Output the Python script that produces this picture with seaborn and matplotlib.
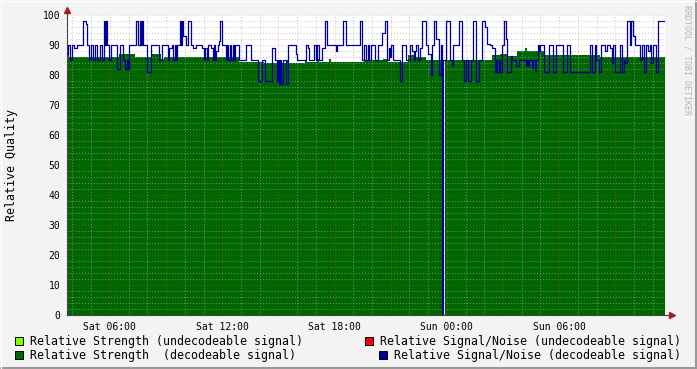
import numpy as np
import pandas as pd
import matplotlib
matplotlib.use("Agg")
import matplotlib.pyplot as plt
import seaborn as sns
from matplotlib.ticker import MultipleLocator, FuncFormatter
from matplotlib.patches import Rectangle
from matplotlib.lines import Line2D

# ---------------- data (RRD samples, one step = 192 s, first sample Sat 03:42) -------------
START_HOUR = 3 + 42.4 / 60
STEP_HOURS = 192 / 3600
N_SAMPLES = 599

# Relative Strength (decodeable) - step changes: sample index -> value
strength_idx = [0, 2, 52, 68, 85, 94, 97, 172, 197, 220, 222, 238, 240, 250, 252, 262, 264,
                297, 317, 322, 342, 349, 360, 377, 379, 426, 434, 442, 451, 459, 461, 478, 534]
strength_val = [87, 86, 87, 86, 87, 85.5, 86, 84.5, 84, 85, 84, 85, 84.5, 85.5, 84.5, 85.5, 84.5,
                85, 85.5, 84.5, 86.7, 86, 85, 0, 85, 86.7, 87, 86.5, 88, 89, 88, 86.8, 86]

# Relative Signal/Noise (decodeable) - step changes: sample index -> value
snr_idx = [0, 1, 3, 5, 7, 10, 16, 19, 20, 22, 24, 26, 28, 30, 33, 35, 37, 38, 39, 40,
           42, 44, 50, 53, 56, 58, 60, 61, 62, 69, 71, 73, 74, 75, 76, 80, 84, 92, 95,
           101, 102, 105, 106, 108, 109, 110, 113, 114, 115, 116, 119, 121, 124, 126, 129,
           135, 137, 138, 140, 141, 144, 146, 147, 148, 149, 151, 152, 153, 155, 159, 160,
           161, 163, 164, 166, 167, 168, 172, 179, 184, 191, 195, 198, 205, 208, 210, 211,
           212, 213, 214, 216, 219, 221, 229, 230, 239, 241, 242, 247, 249, 250, 252, 255,
           258, 260, 269, 270, 276, 279, 293, 295, 297, 300, 302, 303, 305, 309, 312, 316,
           319, 321, 323, 324, 325, 327, 334, 336, 340, 344, 346, 348, 349, 350, 352, 354,
           356, 360, 362, 365, 366, 368, 370, 373, 375, 376, 377, 380, 384, 386, 387, 393,
           396, 398, 400, 402, 405, 407, 410, 413, 416, 419, 421, 424, 426, 429, 430, 431,
           433, 434, 436, 438, 440, 441, 445, 446, 450, 453, 460, 461, 462, 463, 466, 467,
           469, 470, 472, 473, 474, 478, 483, 487, 490, 497, 501, 504, 524, 526, 529, 530,
           533, 535, 539, 541, 544, 546, 547, 549, 554, 556, 558, 559, 561, 564, 565, 567,
           569, 574, 576, 578, 580, 582, 584, 585, 587, 590, 592]
snr_val = [87, 90, 85, 90, 89, 90, 98, 97, 90, 85, 90, 85, 90, 85, 90, 85, 98, 90, 98, 90,
           85, 90, 82, 90, 85, 82, 85, 82, 90, 98, 90, 98, 90, 98, 90, 81, 90, 85, 90,
           85, 89, 90, 85, 90, 85, 90, 98, 90, 98, 93, 90, 98, 90, 89, 90,
           89, 85, 89, 85, 90, 89, 85, 90, 85, 88, 90, 91.5, 98, 90, 85, 90,
           85, 90, 85, 90, 85, 90, 85, 90, 85, 78, 85, 78, 89, 85, 78, 85,
           77, 85, 77, 85, 77, 90, 87, 85, 90, 89, 85, 90, 85, 90, 85, 89,
           98, 90, 88, 90, 98, 90, 98, 85, 90, 85, 90, 85, 90, 85, 90, 94,
           98, 85, 89, 86, 90, 85, 78, 90, 85, 90, 88, 85, 88, 90, 85, 89,
           98, 90, 87, 80, 90, 98, 92, 80, 90, 0, 85, 98, 85, 83, 90, 98,
           85, 78, 85, 78, 85, 98, 78, 85, 98, 96, 90.5, 90, 89, 81, 85, 81,
           85, 81, 90, 98, 92, 81, 86.5, 85, 83, 85, 83, 85, 83, 85, 82.5, 85,
           81.5, 85, 90, 88, 90, 81, 90, 81, 90, 81, 90, 81, 90, 81, 90, 85,
           81, 90, 88, 90, 89, 84, 90, 81, 90, 81, 85, 84, 98, 90, 98, 93,
           90, 85, 90, 81, 90, 88, 90, 84, 90, 81, 98]

tick_hours = [6, 12, 18, 24, 30]
tick_labels = ["Sat 06:00", "Sat 12:00", "Sat 18:00", "Sun 00:00", "Sun 06:00"]

legend_labels = ["Relative Strength (undecodeable signal)",
                 "Relative Signal/Noise (undecodeable signal)",
                 "Relative Strength  (decodeable signal)",
                 "Relative Signal/Noise (decodeable signal)"]
legend_colors = ["#80FF00", "#FF0000", "#006600", "#000099"]

# ---------------- styling ----------------
sns.set_theme(style="white")
plt.rcParams["font.family"] = ["DejaVu Sans Mono"]

W, H = 697, 369
fig = plt.figure(figsize=(W / 100, H / 100), dpi=100, facecolor="#F3F3F3")
ax = fig.add_axes([67 / W, (H - 315) / H, 598 / W, 300 / H])
ax.set_facecolor("white")

# strength area
s_hours = START_HOUR + np.array(strength_idx + [N_SAMPLES]) * STEP_HOURS
s_vals = np.array(strength_val + [strength_val[-1]], dtype=float)
ax.fill_between(s_hours, 0, s_vals, step="post", color="#006600", linewidth=0, zorder=1)

# SNR line
snr_df = pd.DataFrame({
    "hour": START_HOUR + np.array(snr_idx + [N_SAMPLES]) * STEP_HOURS,
    "snr": snr_val + [snr_val[-1]],
})
sns.lineplot(data=snr_df, x="hour", y="snr", drawstyle="steps-post", estimator=None,
             color="#000099", linewidth=0.9, ax=ax, zorder=3)

x_end = START_HOUR + N_SAMPLES * STEP_HOURS
ax.set_xlim(START_HOUR, x_end)
ax.set_ylim(0, 100)
ax.set_xlabel("")
ax.set_ylabel("")

label_map = dict(zip(tick_hours, tick_labels))
ax.xaxis.set_major_locator(MultipleLocator(3))
ax.xaxis.set_minor_locator(MultipleLocator(1))
ax.xaxis.set_major_formatter(FuncFormatter(lambda v, p: label_map.get(int(round(v)), "")))
ax.yaxis.set_major_locator(MultipleLocator(10))
ax.yaxis.set_minor_locator(MultipleLocator(2))

ax.set_axisbelow(False)
ax.grid(which="minor", color="#a8a8a8", linestyle=(0, (1, 2)), linewidth=0.7, alpha=0.7)
ax.grid(which="major", color="#ff4040", linestyle=(0, (1, 2)), linewidth=0.7, alpha=0.4)

ax.tick_params(axis="both", which="major", labelsize=7, length=2.5, width=0.7, pad=2.2,
               colors="#000000")
ax.tick_params(axis="x", which="major", color="#d04040")
ax.tick_params(axis="y", which="major", color="#d04040")
ax.tick_params(axis="both", which="minor", length=2, width=0.7, color="#909090")
for t in ax.get_xticklabels() + ax.get_yticklabels():
    t.set_color("#000000")

for side in ["top", "right"]:
    ax.spines[side].set_visible(False)
for side in ["left", "bottom"]:
    ax.spines[side].set_color("#404040")
    ax.spines[side].set_linewidth(0.8)

# axis extensions with arrows
ax.plot([0, 0], [1, 1.018], transform=ax.transAxes, color="#404040", lw=0.8, clip_on=False)
ax.plot([0], [1.018], transform=ax.transAxes, marker="^", color="#a02020", ms=4, clip_on=False)
ax.plot([1, 1.011], [0, 0], transform=ax.transAxes, color="#404040", lw=0.8, clip_on=False)
ax.plot([1.011], [0], transform=ax.transAxes, marker=">", color="#a02020", ms=4, clip_on=False)

# y label
fig.text(12 / W, 1 - 165 / H, "Relative Quality", rotation=90, ha="center", va="center",
         fontsize=8.35, color="#000000")

# watermark
fig.text(687 / W, 1 - 5 / H, "RRDTOOL / TOBI OETIKER", rotation=270, ha="center", va="top",
         fontsize=6, color="#b4b4b4")

# legend
legend_pos = [(15, 341, 30), (365, 341, 380), (15, 355, 30), (379, 355, 394)]
for (bx, cy, tx), lab, col in zip(legend_pos, legend_labels, legend_colors):
    fig.add_artist(Rectangle((bx / W, 1 - (cy + 4) / H), 8 / W, 8 / H, transform=fig.transFigure,
                             facecolor=col, edgecolor="#000000", linewidth=0.7))
    fig.text(tx / W, 1 - cy / H, lab, ha="left", va="center", fontsize=8.35, color="#000000")

# frame (bevel)
fig.add_artist(Line2D([1 - 1 / W, 1 - 1 / W], [0, 1], transform=fig.transFigure,
                      color="#9a9a9a", lw=1.5))
fig.add_artist(Line2D([0, 1], [1 / H, 1 / H], transform=fig.transFigure,
                      color="#9a9a9a", lw=1.5))
fig.add_artist(Line2D([0, 1], [1 - 0.5 / H, 1 - 0.5 / H], transform=fig.transFigure,
                      color="#ffffff", lw=1.0))
fig.add_artist(Line2D([0.5 / W, 0.5 / W], [0, 1], transform=fig.transFigure,
                      color="#ffffff", lw=1.0))

fig.savefig("out.png", dpi=100, facecolor=fig.get_facecolor())
